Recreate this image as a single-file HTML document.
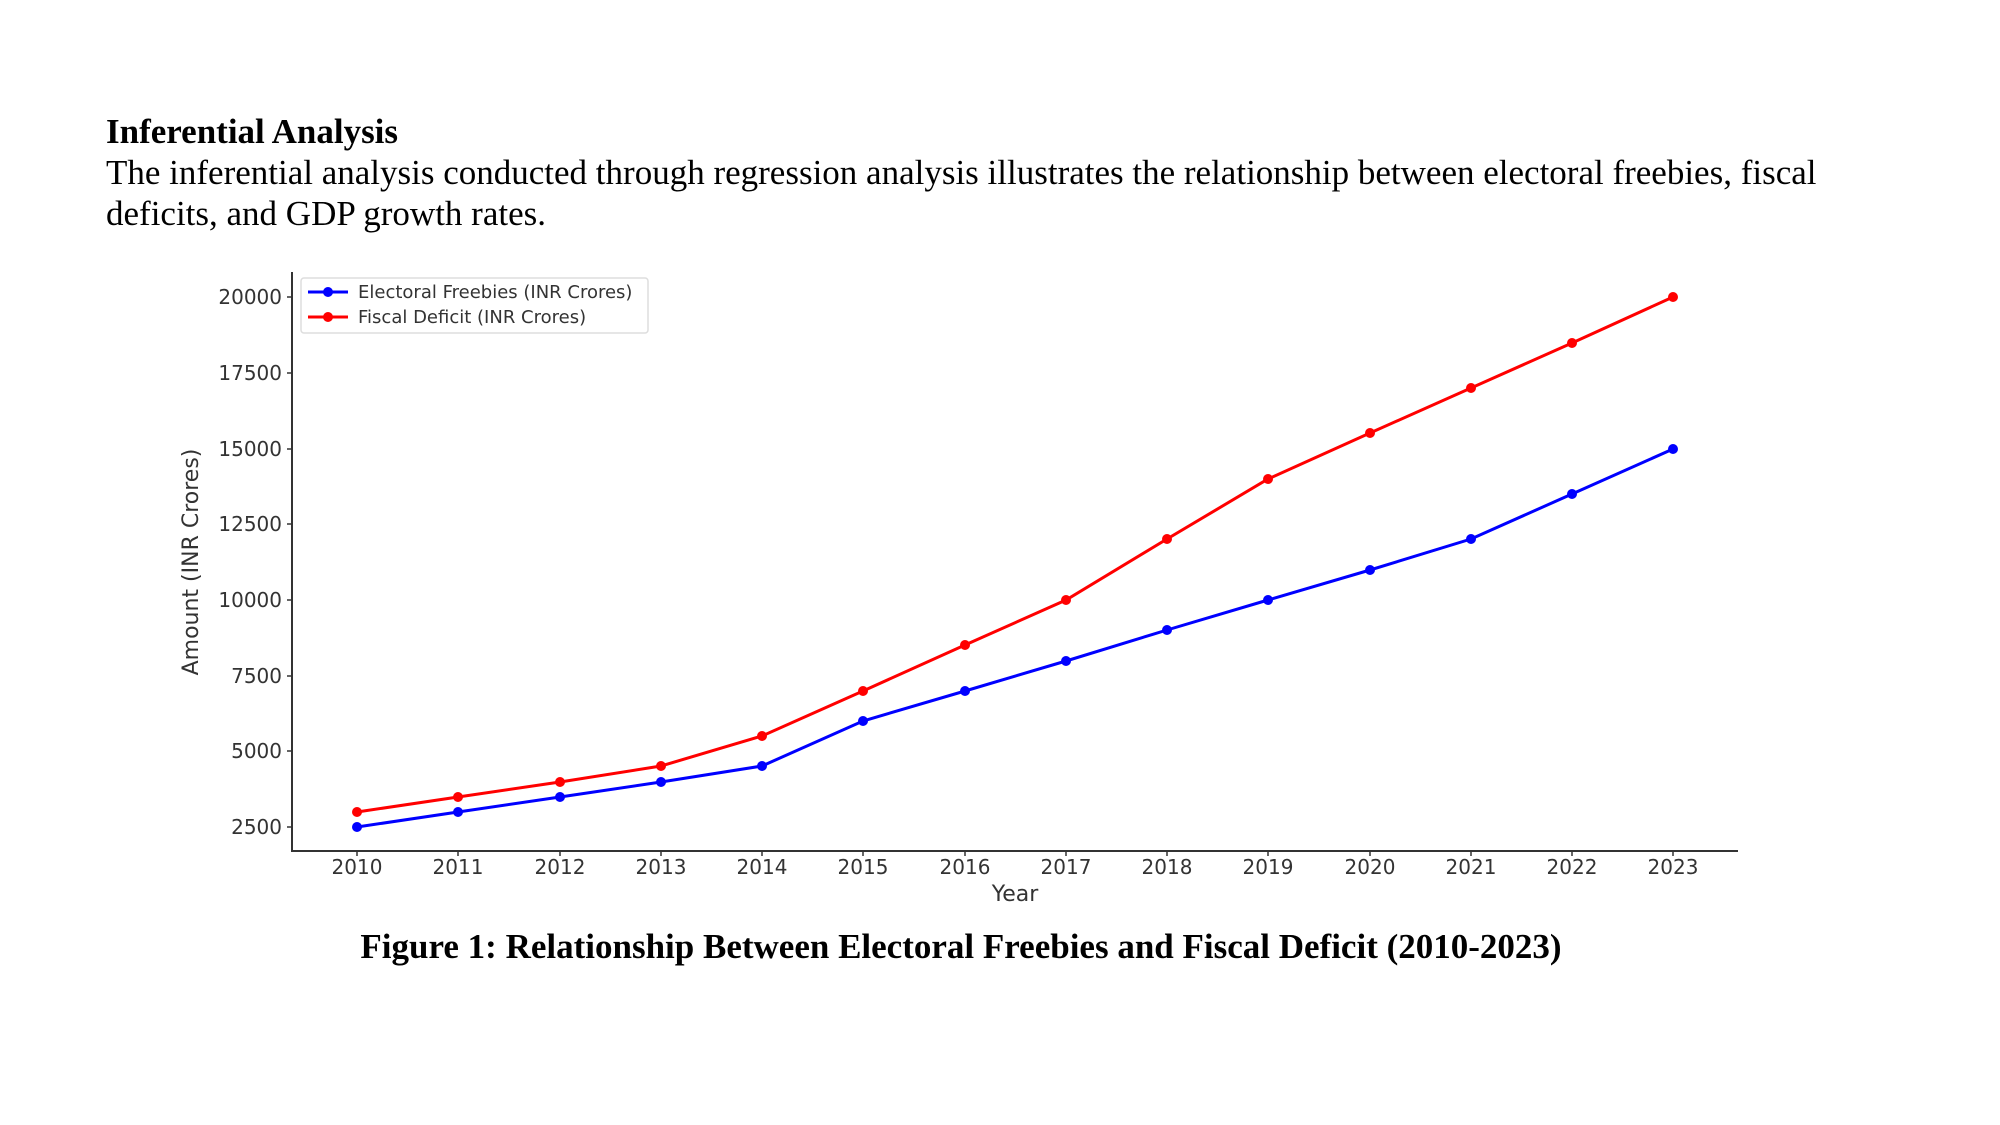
<!DOCTYPE html>
<html><head><meta charset="utf-8"><style>
html,body{margin:0;padding:0;background:#fff;width:2000px;height:1125px;overflow:hidden}
</style></head><body>
<svg width="2000" height="1125" xmlns="http://www.w3.org/2000/svg">
<rect width="2000" height="1125" fill="#fff"/>
<g font-family="Liberation Serif, serif" fill="#000">
<text x="106" y="143" font-size="35" font-weight="bold">Inferential Analysis</text>
<text x="106" y="184" font-size="35">The inferential analysis conducted through regression analysis illustrates the relationship between electoral freebies, fiscal</text>
<text x="106" y="225" font-size="35">deficits, and GDP growth rates.</text>
<text x="961" y="958" font-size="35" font-weight="bold" text-anchor="middle">Figure 1: Relationship Between Electoral Freebies and Fiscal Deficit (2010-2023)</text>
</g>
<g stroke="#333" stroke-width="2" fill="none">
<path d="M292 272 V851 H1738"/>
</g>
<g font-family="DejaVu Sans, sans-serif" font-size="20" fill="#333">
<g text-anchor="end">
<text x="282" y="834">2500</text><text x="282" y="758">5000</text><text x="282" y="683">7500</text><text x="282" y="607">10000</text><text x="282" y="531">12500</text><text x="282" y="456">15000</text><text x="282" y="380">17500</text><text x="282" y="304">20000</text>
</g>
<g text-anchor="middle">
<text x="357" y="874">2010</text><text x="458" y="874">2011</text><text x="560" y="874">2012</text><text x="661" y="874">2013</text><text x="762" y="874">2014</text><text x="863" y="874">2015</text><text x="965" y="874">2016</text><text x="1066" y="874">2017</text><text x="1167" y="874">2018</text><text x="1268" y="874">2019</text><text x="1370" y="874">2020</text><text x="1471" y="874">2021</text><text x="1572" y="874">2022</text><text x="1673" y="874">2023</text>
<text x="1015" y="901" font-size="22">Year</text>
<text transform="translate(198,562) rotate(-90)" font-size="22">Amount (INR Crores)</text>
</g>
</g>
<g stroke="#333" stroke-width="1.5">
<path d="M287 827H292M287 751H292M287 676H292M287 600H292M287 524H292M287 449H292M287 373H292M287 297H292"/>
<path d="M357 851v5M458 851v5M560 851v5M661 851v5M762 851v5M863 851v5M965 851v5M1066 851v5M1167 851v5M1268 851v5M1370 851v5M1471 851v5M1572 851v5M1673 851v5"/>
</g>
<polyline fill="none" stroke="#ff0000" stroke-width="3" points="357,812 458,797 560,782 661,766 762,736 863,691 965,645 1066,600 1167,539 1268,479 1370,433 1471,388 1572,343 1673,297"/>
<polyline fill="none" stroke="#0000ff" stroke-width="3" points="357,827 458,812 560,797 661,782 762,766 863,721 965,691 1066,661 1167,630 1268,600 1370,570 1471,539 1572,494 1673,449"/>
<g fill="#ff0000">
<circle cx="357" cy="812" r="5"/><circle cx="458" cy="797" r="5"/><circle cx="560" cy="782" r="5"/><circle cx="661" cy="766" r="5"/><circle cx="762" cy="736" r="5"/><circle cx="863" cy="691" r="5"/><circle cx="965" cy="645" r="5"/><circle cx="1066" cy="600" r="5"/><circle cx="1167" cy="539" r="5"/><circle cx="1268" cy="479" r="5"/><circle cx="1370" cy="433" r="5"/><circle cx="1471" cy="388" r="5"/><circle cx="1572" cy="343" r="5"/><circle cx="1673" cy="297" r="5"/>
</g>
<g fill="#0000ff">
<circle cx="357" cy="827" r="5"/><circle cx="458" cy="812" r="5"/><circle cx="560" cy="797" r="5"/><circle cx="661" cy="782" r="5"/><circle cx="762" cy="766" r="5"/><circle cx="863" cy="721" r="5"/><circle cx="965" cy="691" r="5"/><circle cx="1066" cy="661" r="5"/><circle cx="1167" cy="630" r="5"/><circle cx="1268" cy="600" r="5"/><circle cx="1370" cy="570" r="5"/><circle cx="1471" cy="539" r="5"/><circle cx="1572" cy="494" r="5"/><circle cx="1673" cy="449" r="5"/>
</g>
<rect x="301" y="278" width="347" height="55" rx="3" fill="#fff" stroke="#ddd" stroke-width="1.5"/>
<line x1="308" y1="292" x2="348" y2="292" stroke="#0000ff" stroke-width="3"/><circle cx="328" cy="292" r="5" fill="#0000ff"/>
<line x1="308" y1="317" x2="348" y2="317" stroke="#ff0000" stroke-width="3"/><circle cx="328" cy="317" r="5" fill="#ff0000"/>
<g font-family="DejaVu Sans, sans-serif" font-size="18" fill="#333">
<text x="358" y="298">Electoral Freebies (INR Crores)</text>
<text x="358" y="323">Fiscal Deficit (INR Crores)</text>
</g>
</svg>
</body></html>
